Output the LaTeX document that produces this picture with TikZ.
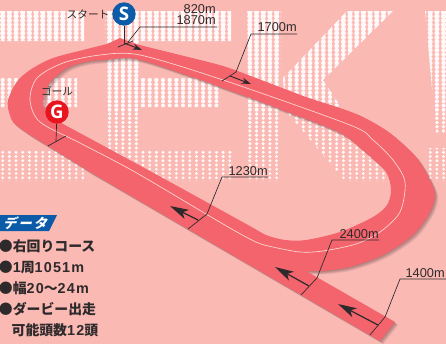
\documentclass[tikz,border=0pt]{standalone}
\usepackage{fontspec}
\setmainfont{Liberation Sans}
\newfontfamily\cjk{Noto Sans CJK JP}
\newfontfamily\cjkslant[FakeSlant=0.25, LetterSpace=14]{Noto Sans CJK JP}
\newfontfamily\badge{Open Sans}
\newfontfamily\infodigits[LetterSpace=8]{Liberation Sans}
\usetikzlibrary{arrows.meta, positioning}
\definecolor{bgpink}{HTML}{FBB9B4}
\definecolor{trackred}{HTML}{F3646D}
\definecolor{inkdark}{HTML}{2E2A2B}
\definecolor{bannerblue}{HTML}{0B5BA8}
\definecolor{goalred}{HTML}{E8151F}
\definecolor{laneline}{HTML}{FFD9D2}
\tikzstyle{distlabel} = [inner sep=0pt, anchor=south east, text=inkdark, font=\fontsize{9.6pt}{10pt}\selectfont]
\tikzstyle{leader} = [draw=inkdark, line width=0.5pt]
\tikzstyle{arrow} = [draw=inkdark, line width=0.9pt, -{Stealth[length=14pt, width=7.5pt, inset=3.5pt]}]
\tikzstyle{smallarrow} = [draw=inkdark, line width=0.7pt, -{Stealth[length=7pt, width=4.5pt]}]
\tikzstyle{badgenode} = [circle, minimum size=17.5pt, inner sep=0pt, text=white, font=\badge\bfseries\fontsize{14pt}{14pt}\selectfont]
\tikzstyle{caption} = [inner sep=0pt, text=inkdark, font=\cjk\fontsize{8pt}{9pt}\selectfont]
\tikzstyle{infoline} = [inner sep=0pt, text width=110pt, align=left, text height=8pt, text depth=1.5pt, text=inkdark, font=\cjk\bfseries\fontsize{10.4pt}{11pt}\selectfont]
\newcommand{\dg}[1]{{\infodigits\bfseries\fontsize{10.8pt}{11pt}\selectfont #1}}
\newcommand{\trackouter}{plot[smooth, tension=0.5] coordinates {(120,38) (140,45) (180,55) (223,66) (256,78) (306,97) (340,108) (363,117) (390,133) (416,157) (430,180) (435,195) (430,212) (413,235) (383,255) (350,267) (323,271) (306,271)} -- (395,322) -- (380,341) -- (90,172) -- plot[smooth, tension=0.5] coordinates {(90,172) (43,143) (27,133) (13,122) (8,108) (8,100) (13,88) (20,78) (33,68) (53,58) (83,50) (107,44)} -- cycle}
\newcommand{\trackinner}{plot[smooth cycle, tension=0.5] coordinates {(105,60) (140,60) (223,88) (290,113) (340,133) (366,153) (386,172) (391,190) (387,205) (373,217) (340,232) (306,240) (285,240) (266,235) (248,225) (150,171) (65,125) (50,116) (43,103) (50,83) (67,68) (85,62)}}
\begin{document}
\begin{tikzpicture}[x=0.75pt, y=-0.75pt]
\fill [bgpink] (0,0) rectangle (446,344);
\useasboundingbox (0,0) rectangle (446,344);

% halftone letters behind the course
\begin{scope}
\clip (0,11) rectangle (84,41) (0,78) rectangle (77,107) (0,151) rectangle (84,181)
  (105,11) rectangle (140,181) (140,11) rectangle (231,41) (140,78) rectangle (221,107) (140,151) rectangle (233,181)
  (246,11) rectangle (281,181)
  (283,78) -- (347,11) -- (393,11) -- (323,80) -- (390,181) -- (345,181) -- (285,110) -- cycle
  (425,11) -- (446,11) -- (446,133) -- (436,133) -- cycle (425,148) rectangle (446,181);
\foreach \dx in {0,...,66}
  \foreach \dy in {0,...,40} {
    \pgfmathsetmacro{\dotr}{2.05-0.95*\dy/40}
    \fill [white!92!bgpink] (2.7+6.68*\dx, 12+4.25*\dy) circle [radius=\dotr pt];
  }
\end{scope}

% course
\foreach \k in {6,5,...,1}
  \fill [black, opacity=0.055, even odd rule, shift={(0.55*\k,0.55*\k)}] \trackouter \trackinner;
\fill [trackred, even odd rule] \trackouter \trackinner;
\draw [draw=laneline, fill=none, line width=0.5pt] plot [smooth cycle, tension=0.5] coordinates {(100,55) (140,55) (223,80) (350,125) (373,140) (393,160) (405,182) (400,212) (380,232) (356,244) (323,251) (300,252) (273,247) (256,242) (223,224) (135,172) (80,143) (40,122) (30,100) (37,78) (63,63)};

% start and goal
\node (start) [badgenode, fill=bannerblue] at (124,14) {S};
\node (goal) [badgenode, fill=goalred] at (57,112) {G};
\node (startlabel) [caption] at (88,14) {スタート};
\node (goallabel) [caption] at (57,91) {ゴール};
\coordinate (startfoot) at (124,43);
\coordinate (goalfoot) at (56,141);
\coordinate (starttickA) at (118,47);
\coordinate (starttickB) at (133,41);
\coordinate (goaltickA) at (48,146);
\coordinate (goaltickB) at (66,136);
\draw [leader] (start) -- (startfoot);
\draw [leader] (goal) -- (goalfoot);
\draw [leader] (starttickA) -- (starttickB);
\draw [leader] (goaltickA) -- (goaltickB);
\coordinate (starthead) at (142,50);
\draw [smallarrow] (startfoot) -- (starthead);

% distance marks
\coordinate (r820) at (217,27);
\coordinate (l820) at (140,27);
\coordinate (k820) at (128,42);
\node (d1870) [distlabel] at (216,25) {1870m};
\node (d820) [distlabel] at (216,14) {820m};
\draw [leader] (r820) -- (l820) -- (k820);

\coordinate (r1700) at (297,34);
\coordinate (l1700) at (251,34);
\coordinate (k1700) at (236,72);
\coordinate (e1700) at (222,81);
\coordinate (b1700) at (230,76);
\coordinate (h1700) at (251,84);
\node (d1700) [distlabel] at (297,32) {1700m};
\draw [leader] (r1700) -- (l1700) -- (k1700) -- (e1700);
\draw [smallarrow] (b1700) -- (h1700);

\coordinate (r1230) at (268,177);
\coordinate (l1230) at (222,177);
\coordinate (k1230) at (207,214);
\coordinate (e1230) at (188,229);
\coordinate (b1230) at (198,220);
\coordinate (h1230) at (170,206);
\node (d1230) [distlabel] at (268,175.5) {1230m};
\draw [leader] (r1230) -- (l1230) -- (k1230) -- (e1230);
\draw [arrow] (b1230) -- (h1230);

\coordinate (r2400) at (379,240);
\coordinate (l2400) at (332,240);
\coordinate (k2400) at (317,278);
\coordinate (e2400) at (301,295);
\coordinate (b2400) at (309,286);
\coordinate (h2400) at (275,267);
\node (d2400) [distlabel] at (379,238.5) {2400m};
\draw [leader] (r2400) -- (l2400) -- (k2400) -- (e2400);
\draw [arrow] (b2400) -- (h2400);

\coordinate (r1400) at (446,279);
\coordinate (l1400) at (400,279);
\coordinate (k1400) at (385,317);
\coordinate (e1400) at (370,335);
\coordinate (b1400) at (378,325);
\coordinate (h1400) at (338,304);
\node (d1400) [distlabel] at (445,277.5) {1400m};
\draw [leader] (r1400) -- (l1400) -- (k1400) -- (e1400);
\draw [arrow] (b1400) -- (h1400);

% data panel
\fill [bannerblue] (0,215) -- (57,215) -- (49,231) -- (0,231) -- cycle;
\node (datatitle) [inner sep=0pt, text=white, font=\cjkslant\bfseries\fontsize{10pt}{10pt}\selectfont] at (25,223) {データ};
\node (line1) [infoline] at (72.3,247) {●右回りコース};
\node (line2) [infoline, below of=line1, node distance=15.7pt] {●\dg{1}周\dg{1051m}};
\node (line3) [infoline, below of=line2, node distance=15.7pt] {●幅\dg{20}〜\dg{24m}};
\node (line4) [infoline, below of=line3, node distance=15.7pt] {●ダービー出走};
\node (line5) [infoline, below of=line4, node distance=15.7pt] {\hspace{9.5pt}可能頭数\dg{12}頭};
\end{tikzpicture}
\end{document}
